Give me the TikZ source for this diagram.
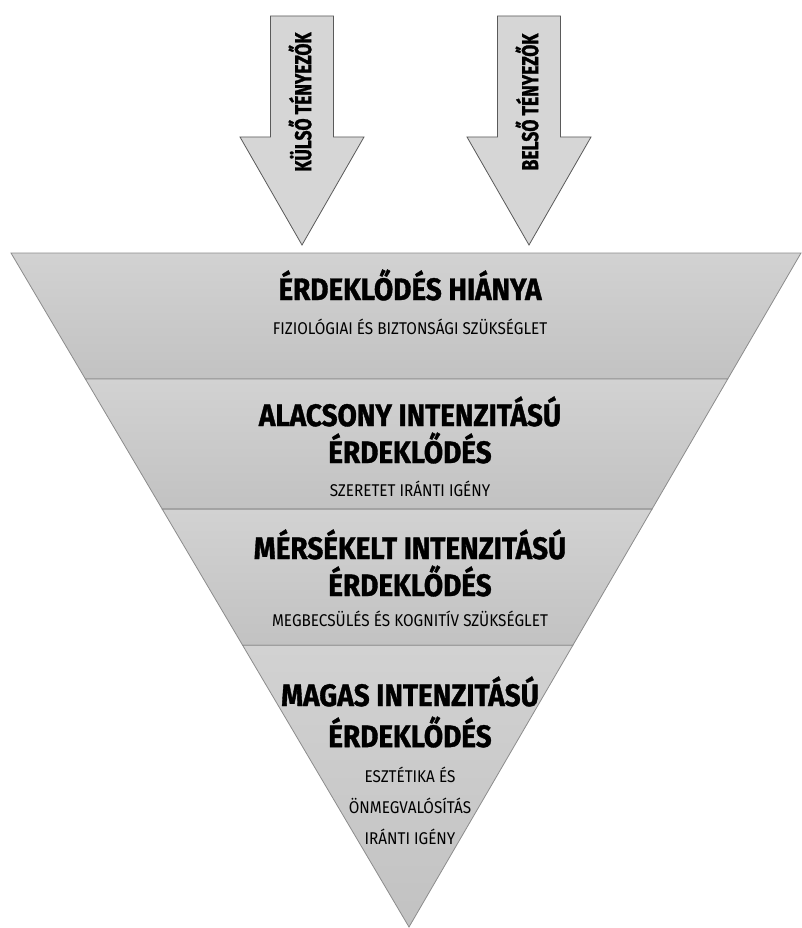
\documentclass[tikz,border=0pt]{standalone}
\usepackage{fontspec}
\usetikzlibrary{calc}
\newfontfamily\headfont[FakeStretch=0.9, BoldFeatures={FakeBold=1.2}]{Fira Sans}
\newfontfamily\factorfont[FakeStretch=0.76, BoldFeatures={FakeBold=1.2}]{Fira Sans}
\definecolor{cBandT}{HTML}{D2D2D2}
\definecolor{cBandB}{HTML}{C2C2C2}
\definecolor{cLine}{HTML}{8C8C8C}
\definecolor{cArrow}{HTML}{D6D6D6}
\definecolor{cArrowB}{HTML}{5A5A5A}
\tikzset{
  band/.style      ={top color=cBandT, bottom color=cBandB,
                     draw=cLine, line width=0.8pt},
  bandtitle/.style ={font=\headfont\bfseries\fontsize{31}{37}\selectfont,
                     align=center, inner sep=0pt},
  bandsub/.style   ={font=\headfont\fontsize{17}{31}\selectfont,
                     align=center, inner sep=0pt},
  factor/.style    ={fill=cArrow, draw=cArrowB, line width=0.8pt},
  factortext/.style={font=\factorfont\bfseries\fontsize{23}{23}\selectfont,
                     rotate=90, inner sep=0pt},
}

\begin{document}
\begin{tikzpicture}[x=1pt, y=-1pt]

  \useasboundingbox[fill=white] (0,0) rectangle (802,928);

  % ============================================================
  % FUNNEL CORNERS
  % ============================================================
  \coordinate (tl)   at (11,253);
  \coordinate (tr)   at (801,253);
  \coordinate (apex) at (409,927);
  \coordinate (l1) at ($(tl)!0.187!(apex)$);
  \coordinate (r1) at ($(tr)!0.187!(apex)$);
  \coordinate (l2) at ($(tl)!0.380!(apex)$);
  \coordinate (r2) at ($(tr)!0.380!(apex)$);
  \coordinate (l3) at ($(tl)!0.582!(apex)$);
  \coordinate (r3) at ($(tr)!0.582!(apex)$);

  % ============================================================
  % BANDS
  % ============================================================
  \path[band] (tl) -- (tr) -- (r1) -- (l1) -- cycle;
  \path[band] (l1) -- (r1) -- (r2) -- (l2) -- cycle;
  \path[band] (l2) -- (r2) -- (r3) -- (l3) -- cycle;
  \path[band] (l3) -- (r3) -- (apex) -- cycle;

  % ============================================================
  % TEXTS
  % ============================================================
  \node[bandtitle] (b1title) at (410,285) {ÉRDEKLŐDÉS HIÁNYA};
  \node[bandsub]   (b1sub)   at (410,327) {FIZIOLÓGIAI ÉS BIZTONSÁGI SZÜKSÉGLET};

  \node[bandtitle] (b2title) at (410,430) {ALACSONY INTENZITÁSÚ\\ÉRDEKLŐDÉS};
  \node[bandsub]   (b2sub)   at (410,489) {SZERETET IRÁNTI IGÉNY};

  \node[bandtitle] (b3title) at (410,563) {MÉRSÉKELT INTENZITÁSÚ\\ÉRDEKLŐDÉS};
  \node[bandsub]   (b3sub)   at (410,619) {MEGBECSÜLÉS ÉS KOGNITÍV SZÜKSÉGLET};

  \node[bandtitle] (b4title) at (410,712) {MAGAS INTENZITÁSÚ\\[4pt]ÉRDEKLŐDÉS};
  \node[bandsub]   (b4sub)   at (410,806) {ESZTÉTIKA ÉS\\ÖNMEGVALÓSÍTÁS\\IRÁNTI IGÉNY};

  % ============================================================
  % FACTOR ARROWS (top)
  % ============================================================
  \foreach \x/\lab/\nm in {302/KÜLSŐ TÉNYEZŐK/ext, 529/BELSŐ TÉNYEZŐK/int} {
    \path[factor] (\x-31.5,16) -- (\x+31.5,16) -- (\x+31.5,137)
      -- (\x+62,137) -- (\x,245) -- (\x-62,137) -- (\x-31.5,137) -- cycle;
    \node[factortext] (\nm) at (\x-2,102) {\lab};
  }

\end{tikzpicture}
\end{document}
